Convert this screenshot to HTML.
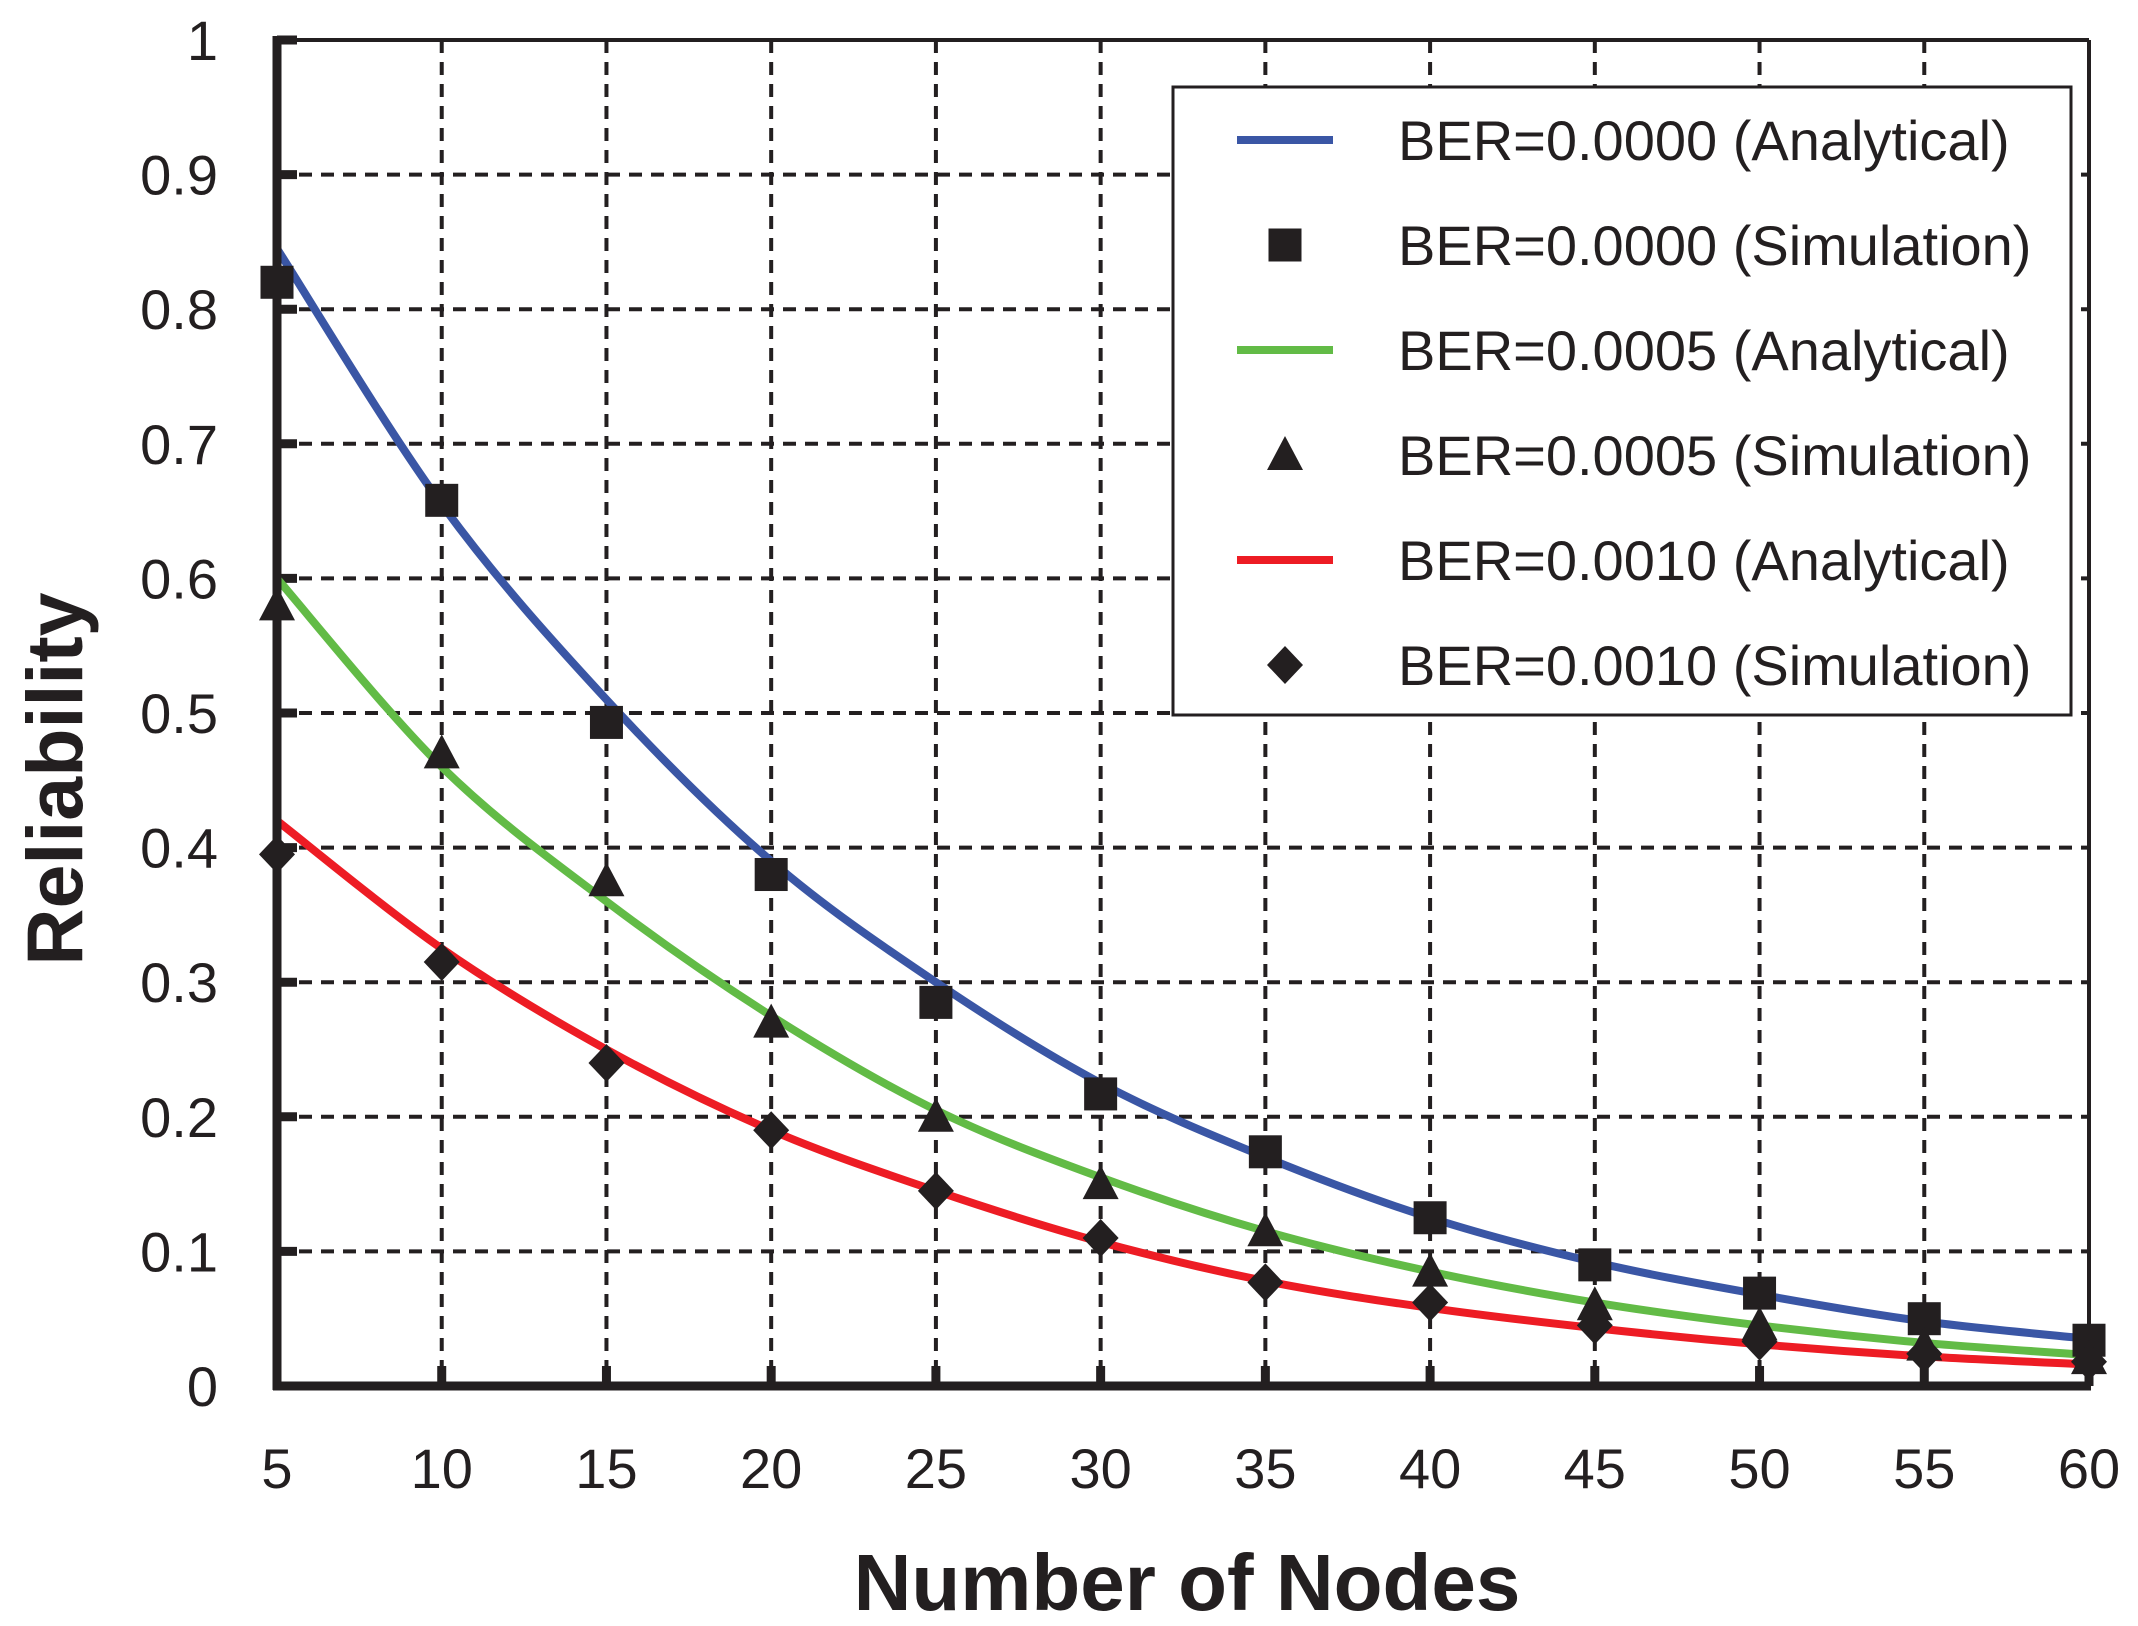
<!DOCTYPE html>
<html><head><meta charset="utf-8"><style>
html,body{margin:0;padding:0;background:#fff;}
svg{display:block;}
text{font-family:"Liberation Sans",sans-serif;fill:#231f20;}
</style></head><body>
<svg id="s" width="2138" height="1626" xmlns="http://www.w3.org/2000/svg"></svg>
<script>
const s=document.getElementById('s');
const L=277,R=2089,T=40,B=1386;
const X=n=>L+(n-5)*(R-L)/55, Y=v=>B-v*(B-T);
let h='';
for(let i=1;i<=11;i++){const x=X(5+5*i); if(i<11) h+=`<line x1="${x}" y1="${T}" x2="${x}" y2="${B}" stroke="#231f20" stroke-width="4" stroke-dasharray="13 9"/>`;}
for(let i=1;i<10;i++){const y=Y(i/10); h+=`<line x1="${L}" y1="${y}" x2="${R}" y2="${y}" stroke="#231f20" stroke-width="4" stroke-dasharray="13 9"/>`;}
h+=`<line x1="${L}" y1="${T}" x2="${R}" y2="${T}" stroke="#231f20" stroke-width="4"/>`;
h+=`<line x1="${R}" y1="${T}" x2="${R}" y2="${B}" stroke="#231f20" stroke-width="4"/>`;
for(let i=0;i<=10;i++){const y=Y(i/10); h+=`<line x1="${L}" y1="${y}" x2="${L+20}" y2="${y}" stroke="#231f20" stroke-width="9"/>`;
 h+=`<text x="218" y="${y+20}" font-size="56" text-anchor="end">${i==0?'0':i==10?'1':'0.'+i}</text>`;}
for(let i=0;i<=11;i++){const x=X(5+5*i); h+=`<line x1="${x}" y1="${B}" x2="${x}" y2="${B-20}" stroke="#231f20" stroke-width="9"/>`;
 h+=`<text x="${x}" y="1488" font-size="56" text-anchor="middle">${5+5*i}</text>`;}
const ns=[5,10,15,20,25,30,35,40,45,50,55,60];
const blue=[0.845,0.655,0.51,0.39,0.30,0.225,0.17,0.125,0.092,0.068,0.048,0.035];
const green=[0.60,0.46,0.36,0.275,0.205,0.155,0.115,0.085,0.062,0.045,0.032,0.023];
const red=[0.42,0.325,0.25,0.19,0.145,0.107,0.078,0.058,0.043,0.031,0.022,0.016];
const sq=[0.82,0.658,0.493,0.38,0.285,0.217,0.174,0.125,0.09,0.069,0.05,0.034];
const tr=[0.58,0.47,0.375,0.27,0.2,0.15,0.115,0.085,0.06,0.045,0.03,0.02];
const di=[0.395,0.315,0.24,0.19,0.145,0.11,0.077,0.062,0.045,0.033,0.024,0.018];
function curve(v,c){const p=ns.map((n,i)=>[X(n),Y(v[i])]);let d=`M${p[0][0]},${p[0][1]}`;
 for(let i=0;i<p.length-1;i++){const p0=p[Math.max(0,i-1)],p1=p[i],p2=p[i+1],p3=p[Math.min(p.length-1,i+2)];
 d+=` C${p1[0]+(p2[0]-p0[0])/6},${p1[1]+(p2[1]-p0[1])/6} ${p2[0]-(p3[0]-p1[0])/6},${p2[1]-(p3[1]-p1[1])/6} ${p2[0]},${p2[1]}`;}
 return `<path d="${d}" fill="none" stroke="${c}" stroke-width="8"/>`;}
h+=curve(blue,'#3a56a5')+curve(green,'#62bb46')+curve(red,'#ed1c24');
const sqM=(x,y)=>`<rect x="${x-16.5}" y="${y-16.5}" width="33" height="33" fill="#231f20"/>`;
const trM=(x,y)=>`<polygon points="${x},${y-19} ${x-18},${y+15} ${x+18},${y+15}" fill="#231f20"/>`;
const diM=(x,y)=>`<polygon points="${x},${y-19} ${x+18},${y} ${x},${y+19} ${x-18},${y}" fill="#231f20"/>`;
ns.forEach((n,i)=>{h+=sqM(X(n),Y(sq[i]))+trM(X(n),Y(tr[i]))+diM(X(n),Y(di[i]));});
h+=`<line x1="${L}" y1="${T-4}" x2="${L}" y2="${B+4}" stroke="#231f20" stroke-width="9"/>`;
h+=`<line x1="${L-4}" y1="${B}" x2="${R+2}" y2="${B}" stroke="#231f20" stroke-width="9"/>`;
h+=`<rect x="1173" y="87" width="898" height="628" fill="#fff" stroke="#231f20" stroke-width="3"/>`;
const lab=['BER=0.0000 (Analytical)','BER=0.0000 (Simulation)','BER=0.0005 (Analytical)','BER=0.0005 (Simulation)','BER=0.0010 (Analytical)','BER=0.0010 (Simulation)'];
const ys=[140,245,350,455,560,665];
ys.forEach((y,i)=>{
 if(i==0)h+=`<line x1="1237" y1="${y}" x2="1333" y2="${y}" stroke="#3a56a5" stroke-width="8"/>`;
 if(i==2)h+=`<line x1="1237" y1="${y}" x2="1333" y2="${y}" stroke="#62bb46" stroke-width="8"/>`;
 if(i==4)h+=`<line x1="1237" y1="${y}" x2="1333" y2="${y}" stroke="#ed1c24" stroke-width="8"/>`;
 if(i==1)h+=sqM(1285,y); if(i==3)h+=trM(1285,y); if(i==5)h+=diM(1285,y);
 h+=`<text x="1398" y="${y+20}" font-size="56">${lab[i]}</text>`;});
h+=`<text x="1187" y="1610" font-size="80" font-weight="bold" text-anchor="middle">Number of Nodes</text>`;
h+=`<text transform="translate(82,779) rotate(-90)" font-size="79" font-weight="bold" text-anchor="middle">Reliability</text>`;
s.innerHTML=h;
</script>
</body></html>
